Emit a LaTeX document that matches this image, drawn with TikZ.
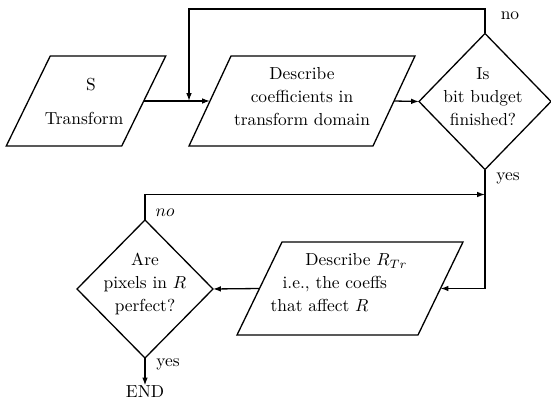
\documentclass[tikz,border=0pt]{standalone}
\usetikzlibrary{shapes.geometric,arrows.meta,calc}
\newcommand{\pxu}{0.575pt}
\begin{document}
\begin{tikzpicture}[x=0.575pt,y=-0.575pt, line width=0.75pt,
  every node/.style={font=\fontsize{10}{13.2}\selectfont},
  pbox/.style={inner sep=0pt, outer sep=0pt},
  dbox/.style={diamond, draw, inner sep=0pt, outer sep=0pt},
  txt/.style={align=center, inner sep=0pt},
  arr/.style={-{Latex[length=4.5pt,width=3.2pt]}},
  lbl/.style={inner sep=0pt}]
\useasboundingbox (0,0) rectangle (551,404);

% parallelogram placeholders
\node[pbox, minimum width=115.5*\pxu, minimum height=90*\pxu] (p1) at (86,101) {};
\node[pbox, minimum width=184*\pxu, minimum height=90*\pxu] (p2) at (302,101) {};
\node[pbox, minimum width=181*\pxu, minimum height=93*\pxu] (p3) at (350,288.5) {};
\foreach \p/\o in {p1/22, p2/21, p3/22.5}{
  \draw ($(\p.north west)+(\o,0)$) -- ($(\p.north east)+(\o,0)$)
     -- ($(\p.south east)+(-\o,0)$) -- ($(\p.south west)+(-\o,0)$) -- cycle;
}
% diamonds
\node[dbox, minimum width=132*\pxu, minimum height=136*\pxu] (q1) at (485,101.5) {};
\node[dbox, minimum width=136*\pxu, minimum height=138*\pxu] (q2) at (145,289) {};

% texts
\node[txt] (t1) at (84,101.5) {\hspace*{8pt}S\\[6pt]Transform};
\node[txt] (t2) at (302,97) {Describe\\coefficients in\\transform domain};
\node[txt] (t3) at (483,97) {Is\\bit budget\\finished?};
\node[txt, align=left, anchor=west] (t4) at (270,283) {\hspace*{20pt}Describe $R_{Tr}$\\\hspace*{6.9pt}i.e., the coeffs\\that affect $R$};
\node[txt] (t5) at (145,284) {Are\\pixels in $R$\\perfect?};
\node[txt] (endn) at (145,392) {END};

% labels
\node[lbl] (l1) at (510,16) {no};
\node[lbl] (l2) at (508,178) {yes};
\node[lbl] (l3) at (165,213) {$no$};
\node[lbl] (l4) at (168,364) {yes};

% connectors
\coordinate (c1) at (189,9);
\draw[arr] (p1.east) -- (p2.west);
\draw[arr] (p2.east) -- (q1.west);
\draw[arr] (q1.north) -- (q1.north |- c1) -- (c1) -- (c1 |- p2.west);
\draw[arr] (q1.south) |- (p3.east);
\draw[arr] (p3.west) -- (q2.east);
\coordinate (c2) at ($(q1.south)+(0,25)$);
\draw[arr] (q2.north) |- (c2);
\draw[arr] (q2.south) -- (endn.north);
\end{tikzpicture}
\end{document}
